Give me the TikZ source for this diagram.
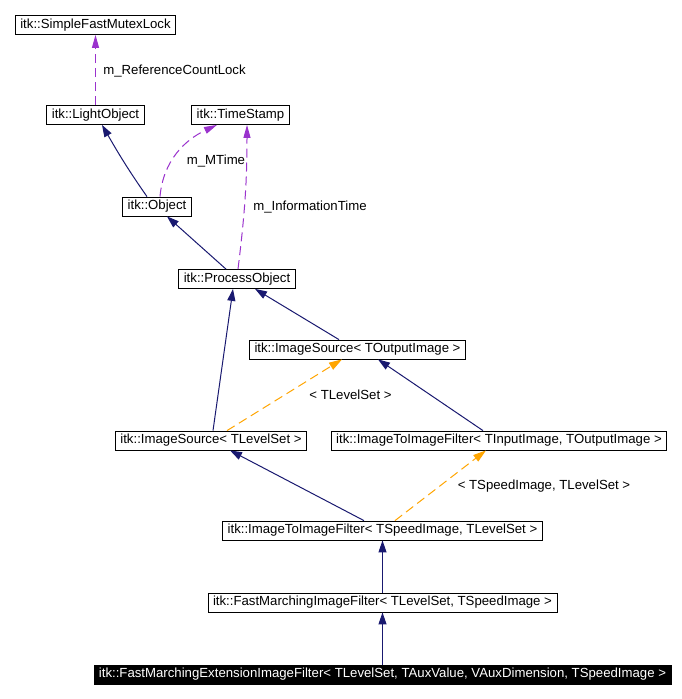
\documentclass[tikz,border=0pt]{standalone}
\usepackage{fontspec}
\setmainfont{Liberation Sans}
\usepackage{xcolor}
\usetikzlibrary{arrows.meta}
\definecolor{inhblue}{RGB}{25,25,112}
\definecolor{usepurple}{RGB}{154,50,205}
\definecolor{tplorange}{RGB}{255,165,0}
\tikzset{
  clsbox/.style  = {rectangle, draw=black, fill=white, line width=0.8pt,
                    font=\fontsize{13.2}{15}\selectfont, inner xsep=5pt,
                    inner ysep=0pt, minimum height=19pt},
  clsmain/.style = {clsbox, fill=black, text=white},
  inhflow/.style = {-{Triangle[length=12pt,width=8pt]}, color=inhblue, line width=1pt},
  useflow/.style = {-{Triangle[length=13pt,width=7pt]}, color=usepurple, line width=1pt,
                    dash pattern=on 9pt off 5pt},
  tplflow/.style = {-{Triangle[length=13pt,width=8pt]}, color=tplorange, line width=1pt,
                    dash pattern=on 9pt off 5pt},
  flowlbl/.style = {font=\fontsize{13.2}{15}\selectfont, text=black, inner sep=0pt},
}
\begin{document}
\begin{tikzpicture}[x=1pt, y=-1pt]
  \useasboundingbox[fill=white] (0,0) rectangle (682,699);

  \node[clsbox]  (lock)   at (95.5,25)    {itk::SimpleFastMutexLock};
  \node[clsbox]  (light)  at (95.5,115)   {itk::LightObject};
  \node[clsbox]  (stamp)  at (240.5,115)  {itk::TimeStamp};
  \node[clsbox]  (obj)    at (157,206.5)  {itk::Object};
  \node[clsbox]  (proc)   at (237,279)    {itk::ProcessObject};
  \node[clsbox]  (srcout) at (357.5,349.5){itk::ImageSource< TOutputImage >};
  \node[clsbox]  (srcls)  at (211,440.5)  {itk::ImageSource< TLevelSet >};
  \node[clsbox]  (filtin) at (499,440.5)  {itk::ImageToImageFilter< TInputImage, TOutputImage >};
  \node[clsbox]  (filtsp) at (382.5,530.5){itk::ImageToImageFilter< TSpeedImage, TLevelSet >};
  \node[clsbox]  (fm)     at (382.5,602.5){itk::FastMarchingImageFilter< TLevelSet, TSpeedImage >};
  \node[clsmain] (fmext)  at (382.5,674.5){itk::FastMarchingExtensionImageFilter< TLevelSet, TAuxValue, VAuxDimension, TSpeedImage >};

  % members
  \draw[useflow] (light.north) -- (lock.south)
    node[flowlbl] at (174.5,71) {m\_ReferenceCountLock};
  \draw[useflow] ([xshift=3pt]obj.north) to[out=85,in=-155] ([xshift=-23.5pt]stamp.south)
    node[flowlbl] at (216,161) {m\_MTime};
  \draw[useflow] ([xshift=1pt]proc.north) to[out=83,in=-90] ([xshift=6.5pt]stamp.south)
    node[flowlbl] at (310,207) {m\_InformationTime};

  % base classes
  \draw[inhflow] ([xshift=-10pt]obj.north) to[out=125,in=-60] ([xshift=6.5pt]light.south);
  \draw[inhflow] ([xshift=-11pt]proc.north) -- ([xshift=10pt]obj.south);
  \draw[inhflow] ([xshift=-18.5pt]srcout.north) -- ([xshift=18pt]proc.south);
  \draw[inhflow] ([xshift=2pt]srcls.north) -- ([xshift=-4pt]proc.south);
  \draw[inhflow] ([xshift=-16pt]filtin.north) -- ([xshift=20.5pt]srcout.south);
  \draw[inhflow] ([xshift=-18.5pt]filtsp.north) -- ([xshift=19pt]srcls.south);
  \draw[inhflow] (fm.north) -- (filtsp.south);
  \draw[inhflow] (fmext.north) -- (fm.south);

  % template instances
  \draw[tplflow] ([xshift=16pt]srcls.north) -- ([xshift=-15.5pt]srcout.south)
    node[flowlbl] at (350.5,395) {< TLevelSet >};
  \draw[tplflow] ([xshift=12.5pt]filtsp.north) -- ([xshift=-13pt]filtin.south)
    node[flowlbl] at (544,486) {< TSpeedImage, TLevelSet >};
\end{tikzpicture}
\end{document}
